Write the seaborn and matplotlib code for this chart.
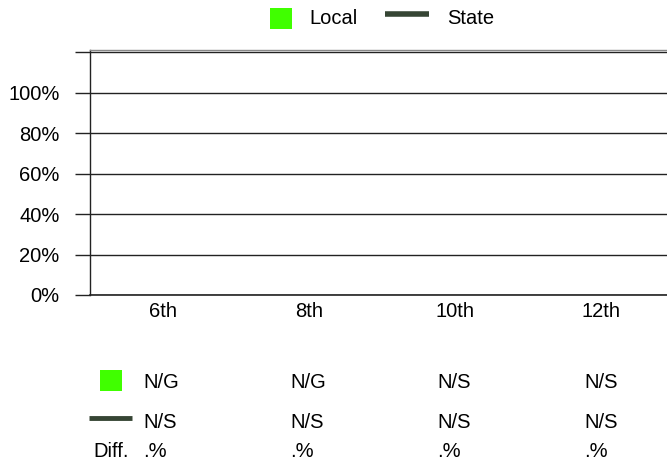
import numpy as np
import pandas as pd
import matplotlib
matplotlib.use("Agg")
import matplotlib.pyplot as plt
import seaborn as sns
from matplotlib.patches import Rectangle
from matplotlib.lines import Line2D

categories = ["6th", "8th", "10th", "12th"]
local_values = [np.nan, np.nan, np.nan, np.nan]
state_values = [np.nan, np.nan, np.nan, np.nan]
local_labels = ["N/G", "N/G", "N/S", "N/S"]
state_labels = ["N/S", "N/S", "N/S", "N/S"]
diff_labels = [".%", ".%", ".%", ".%"]
y_ticks = [0, 0.2, 0.4, 0.6, 0.8, 1.0, 1.2]
y_tick_labels = ["0%", "20%", "40%", "60%", "80%", "100%", ""]

LOCAL_COLOR = "#40FF00"
STATE_COLOR = "#364534"
FS = 14.5

sns.set_style("white")
plt.rcParams["font.family"] = ["Liberation Sans", "DejaVu Sans"]
plt.rcParams["font.size"] = FS
plt.rcParams["text.color"] = "black"
plt.rcParams["xtick.color"] = "black"
plt.rcParams["ytick.color"] = "black"

W, H = 667, 461
fig = plt.figure(figsize=(W / 100, H / 100), dpi=100)
ax = fig.add_axes([90 / W, 1 - 295 / H, (W - 90) / W + 0.01, (295 - 50) / H])

df = pd.DataFrame({"grade": categories, "local": local_values, "state": state_values})
try:
    sns.barplot(data=df, x="grade", y="local", order=categories, color=LOCAL_COLOR, ax=ax)
except Exception:
    pass
ax.set_xlim(-0.5, len(categories) - 0.5)
ax.set_xticks(range(len(categories)))
ax.set_xticklabels(categories, fontsize=FS)
ax.set_ylim(0, 1.21)
ax.set_yticks(y_ticks)
ax.set_yticklabels(y_tick_labels, fontsize=FS)
ax.set_xlabel("")
ax.set_ylabel("")
ax.grid(axis="y", color="#222222", linewidth=1.0)
ax.set_axisbelow(True)
ax.tick_params(axis="y", length=11, width=1.0, color="#222222", pad=11, left=True)
ax.tick_params(axis="x", length=0, pad=5)
ax.spines["right"].set_visible(False)
ax.spines["left"].set_color("#222222")
ax.spines["bottom"].set_color("#222222")
ax.spines["top"].set_color("#888888")
ax.spines["left"].set_linewidth(1.0)
ax.spines["bottom"].set_linewidth(1.2)
ax.spines["top"].set_linewidth(1.0)

def px(x, y):
    return x / W, 1 - y / H

# top legend
fig.patches.append(Rectangle(px(270, 29), 22 / W, 21 / H, transform=fig.transFigure,
                             facecolor=LOCAL_COLOR, edgecolor="none"))
fig.text(*px(309, 18), "Local", fontsize=FS, va="center", ha="left")
fig.lines.append(Line2D([385 / W, 429 / W], [1 - 14 / H, 1 - 14 / H], transform=fig.transFigure,
                        color=STATE_COLOR, linewidth=4, solid_capstyle="butt"))
fig.text(*px(447, 18), "State", fontsize=FS, va="center", ha="left")

# table below
col_x = [143, 290, 437, 584]
fig.patches.append(Rectangle(px(100, 391), 22 / W, 21 / H, transform=fig.transFigure,
                             facecolor=LOCAL_COLOR, edgecolor="none"))
fig.lines.append(Line2D([89 / W, 132 / W], [1 - 418 / H, 1 - 418 / H], transform=fig.transFigure,
                        color=STATE_COLOR, linewidth=3.5, solid_capstyle="butt"))
fig.text(*px(93, 451), "Diff.", fontsize=FS, va="center", ha="left")
for i, x in enumerate(col_x):
    fig.text(*px(x, 382), local_labels[i], fontsize=FS, va="center", ha="left")
    fig.text(*px(x, 422), state_labels[i], fontsize=FS, va="center", ha="left")
    fig.text(*px(x, 451), diff_labels[i], fontsize=FS, va="center", ha="left")

fig.savefig("out.png", dpi=100)
